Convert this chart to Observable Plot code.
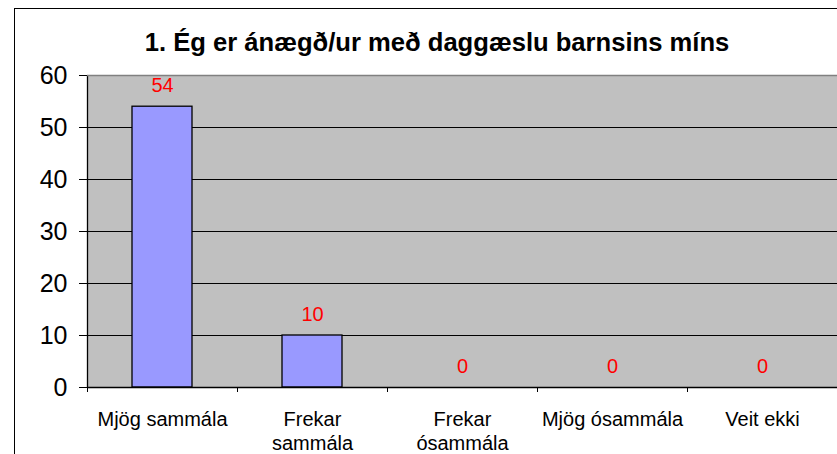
<!DOCTYPE html>
<html>
<head>
<meta charset="utf-8">
<script src="https://cdn.jsdelivr.net/npm/d3@7"></script>
<script src="https://cdn.jsdelivr.net/npm/@observablehq/plot@0.6"></script>
<style>
  html, body { margin: 0; padding: 0; background: #fff; overflow: hidden; width: 837px; height: 454px; }
  #border { position: absolute; left: 14px; top: 8px; width: 900px; height: 500px; border: 1.5px solid #000; box-sizing: border-box; }
  #title { position: absolute; left: 0; top: 28px; width: 874px; text-align: center; font: bold 25.6px "Liberation Sans", Arial, sans-serif; color: #000; white-space: nowrap; }
  #chart { position: absolute; left: 0; top: 0; }
</style>
</head>
<body>
<div id="border"></div>
<div id="title">1. Ég er ánægð/ur með daggæslu barnsins míns</div>
<div id="chart"></div>
<script>
const categories = ["Mjög sammála", "Frekar\nsammála", "Frekar\nósammála", "Mjög ósammála", "Veit ekki"];
const values = [54, 10, 0, 0, 0];
const yTicks = [0, 10, 20, 30, 40, 50, 60];

const data = categories.map((c, i) => ({cat: c, i, value: values[i]}));
const font = "'Liberation Sans', Arial, sans-serif";

const chart = Plot.plot({
  width: 837,
  height: 454,
  marginLeft: 87,
  marginRight: 0,
  marginTop: 75,
  marginBottom: 67,
  style: {fontFamily: font, background: "transparent", overflow: "visible"},
  x: {type: "linear", domain: [0, categories.length]},
  y: {domain: [0, 60]},
  marks: [
    Plot.frame({fill: "#C0C0C0", stroke: null}),
    Plot.gridY(yTicks, {stroke: "#000", strokeOpacity: 1, strokeWidth: 1}),
    Plot.rectY(data, {x1: d => d.i + 0.3, x2: d => d.i + 0.7, y: "value", fill: "#9999FF", stroke: "#000", strokeWidth: 1.3}),
    Plot.text(data, {x: d => d.i + 0.5, y: "value", text: d => String(d.value), fill: "#FF0000", fontSize: 20, lineAnchor: "bottom", dy: -15}),
    Plot.ruleY([0], {stroke: "#000", strokeWidth: 1.3}),
    Plot.ruleX([0], {stroke: "#000", strokeWidth: 1.3}),
    Plot.ruleY([60], {stroke: "#808080", strokeWidth: 1.5}),
    Plot.axisY({ticks: yTicks, tickSize: 8, tickPadding: 12, fontSize: 25, label: null, stroke: "#000"}),
    Plot.axisX({ticks: d3.range(0, categories.length), tickSize: 5, tickFormat: () => "", label: null, stroke: "#000"}),
    Plot.axisX({ticks: data.map(d => d.i + 0.5), tickSize: 0, tickPadding: 21, fontSize: 20, tickFormat: (v) => categories[Math.floor(v)], label: null, lineHeight: 1.2})
  ]
});
document.getElementById("chart").appendChild(chart);
</script>
</body>
</html>
